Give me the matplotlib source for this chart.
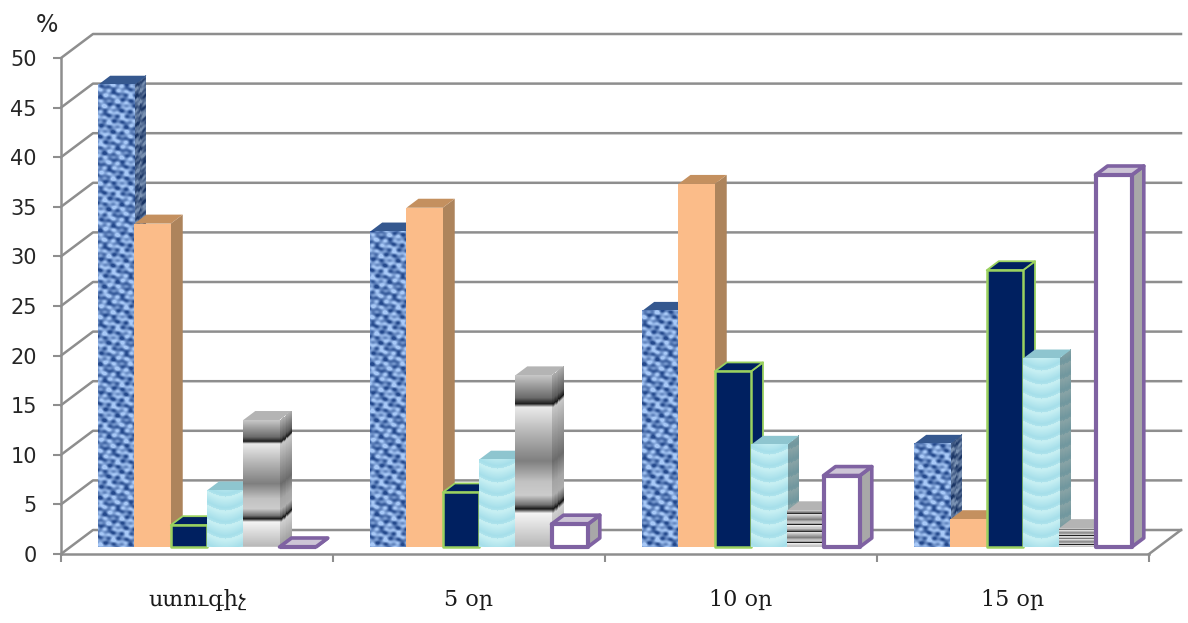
import numpy as np
import matplotlib
matplotlib.use("Agg")
import matplotlib.pyplot as plt
from matplotlib.patches import Polygon

categories = ["ստուգիչ", "5 օր", "10 օր", "15 օր"]
y_ticks = [0, 5, 10, 15, 20, 25, 30, 35, 40, 45, 50]

# one list per series, one value per category
blue_vals = [46.6, 31.8, 23.8, 10.4]
orange_vals = [32.6, 34.2, 36.6, 2.8]
navy_vals = [2.2, 5.5, 17.7, 27.9]
cyan_vals = [5.7, 8.8, 10.3, 19.0]
gray_vals = [12.8, 17.3, 3.7, 1.9]
white_vals = [0.0, 2.3, 7.2, 37.5]

W, H = 1188, 623
X_PX = 272.0   # pixels per category
Y_PX = 9.92    # pixels per percent

GRID = "#8e8e8e"
PURPLE = "#7f62a2"
GREEN = "#9ad15f"

# 3d offsets, in data units
wall_dx, wall_dy = 32 / X_PX, 24 / Y_PX
floor_dx, floor_dy = 10 / X_PX, 7 / Y_PX
side_dx, side_dy = 12 / X_PX, 9 / Y_PX
bar_w = 0.8 / 6

fig = plt.figure(figsize=(W / 100, H / 100), dpi=100)
ax = fig.add_axes([61 / W, 1 - 554 / H, (1149 - 61) / W, (554 - 58) / H])


def blend(a, b, t):
    a = np.array(matplotlib.colors.to_rgb(a))
    b = np.array(matplotlib.colors.to_rgb(b))
    return a + (b - a) * t[..., None]


def cloth(w, h, shade=1.0):
    # mottled woven look, built from a few sines that don't line up
    yy, xx = np.mgrid[0:int(h) + 1, 0:int(w) + 1]
    t = (np.sin(xx * 0.73) * np.sin(yy * 0.61) * 0.35
         + np.sin(xx * 0.29 + yy * 0.47) * 0.3
         + np.sin(xx * 0.53 - yy * 0.19 + 1.3) * 0.2
         + np.sin(xx * 0.11 + yy * 1.13) * 0.2)
    t = np.clip(t * 0.85 + 0.55, 0, 1)
    img = blend("#24498c", "#a9caf8", t)
    return np.clip(img * shade, 0, 1)


def waves(w, h, shade=1.0):
    # stacked scallops
    yy, xx = np.mgrid[0:int(h) + 1, 0:int(w) + 1]
    t = ((yy + 6 * np.abs(np.sin(xx * np.pi / 36))) % 14) / 14
    t = np.clip(np.abs(t - 0.2) * 1.5, 0, 1)
    img = blend("#a6dfea", "#c6eff3", t)
    return np.clip(img * shade, 0, 1)


def metal(w, h, tiles=1, shade=1.0):
    # grey bands running across the bar, top to bottom
    pos = [0, .13, .165, .185, .33, .5, .62, .7, .755, .78, .805, 1]
    lev = [.78, .42, .12, .92, .72, .5, .76, .8, .45, .1, .96, .72]
    yy = np.arange(int(h) + 1) / max(int(h), 1)
    v = (yy * tiles) % 1
    g = np.interp(v, pos, lev)[:, None].repeat(int(w) + 1, axis=1)[::-1]
    return np.clip(np.dstack([g, g, g]) * shade, 0, 1)


def front_face(img, x, y, val, z):
    im = ax.imshow(img, extent=(x, x + bar_w, y, y + val), origin="lower",
                   aspect="auto", interpolation="bilinear", zorder=z)
    im.set_clip_on(False)


def side_face(img, x, y, val, z):
    # img is given for the upright bar: lift each column to follow the depth
    # slope, then mask off the two corner wedges of the bounding box
    rows, cols = img.shape[:2]
    rise = np.arange(cols) / max(cols - 1, 1) * side_dy * Y_PX
    lifted = np.empty((rows, cols, 4))
    for c in range(cols):
        lifted[:, c, :3] = np.roll(img[:, c], int(rise[c]), axis=0)
        r = np.arange(rows)
        lifted[:, c, 3] = (r >= rise[c]) & (r <= val * Y_PX + rise[c])
    im = ax.imshow(lifted, extent=(x, x + side_dx, y, y + val + side_dy),
                   origin="lower", aspect="auto", interpolation="nearest", zorder=z)
    im.set_clip_on(False)


def flat_face(p0, pu, pv, color, z, edge="none", lw=0):
    pts = [p0, (p0[0] + pu[0], p0[1] + pu[1]),
           (p0[0] + pu[0] + pv[0], p0[1] + pu[1] + pv[1]),
           (p0[0] + pv[0], p0[1] + pv[1])]
    ax.add_patch(Polygon(pts, closed=True, facecolor=color, edgecolor=edge,
                         linewidth=lw, joinstyle="round", clip_on=False, zorder=z))


def draw_bar(series, i, j, val, z):
    x = i + 0.1 + j * bar_w + floor_dx
    y = floor_dy
    front = ((x, y), (bar_w, 0), (0, val))
    side = ((x + bar_w, y), (side_dx, side_dy), (0, val))
    top = ((x, y + val), (bar_w, 0), (side_dx, side_dy))
    w_px = bar_w * X_PX
    h_px = val * Y_PX
    box_h = h_px + side_dy * Y_PX

    if series == "blue":
        side_face(cloth(12, box_h, 0.72), x + bar_w, y, val, z)
        flat_face(*top, "#35588f", z)
        front_face(cloth(w_px, h_px), x, y, val, z)
    elif series == "orange":
        flat_face(*side, "#ad845c", z)
        flat_face(*top, "#c4905f", z)
        flat_face(*front, "#fbbc89", z)
    elif series == "navy":
        flat_face(*side, "#002060", z, GREEN, 1.3)
        flat_face(*top, "#002060", z, GREEN, 1.3)
        flat_face(*front, "#002060", z, GREEN, 1.8)
    elif series == "cyan":
        side_face(waves(12, box_h, 0.68), x + bar_w, y, val, z)
        flat_face(*top, "#8ec5cf", z)
        front_face(waves(w_px, h_px), x, y, val, z)
    elif series == "gray":
        tiles = 1 if val > 5 else 2
        side_img = metal(12, h_px, tiles, 0.85)
        pad = np.repeat(side_img[-1:], int(box_h) - int(h_px), axis=0)
        side_face(np.vstack([side_img, pad]), x + bar_w, y, val, z)
        flat_face(*top, "#b4b4b4", z)
        front_face(metal(w_px, h_px, tiles), x, y, val, z)
    else:
        flat_face(*side, "#a8a8a8", z, PURPLE, 2.6)
        flat_face(*top, "#cdc5d6", z, PURPLE, 2.6)
        flat_face(*front, "white", z, PURPLE, 3.0)


# back wall and floor lines
for v in y_ticks:
    ax.plot([0, wall_dx, 4 + wall_dx], [v, v + wall_dy, v + wall_dy],
            color=GRID, lw=1.8, clip_on=False, zorder=1)
ax.plot([4, 4 + wall_dx], [0, wall_dy], color=GRID, lw=1.8, clip_on=False, zorder=1)

series = [("blue", blue_vals), ("orange", orange_vals), ("navy", navy_vals),
          ("cyan", cyan_vals), ("gray", gray_vals), ("white", white_vals)]
z = 3
for i in range(len(categories)):
    for j, (name, vals) in enumerate(series):
        draw_bar(name, i, j, vals[i], z)
        z += 1

ax.set_xlim(0, 4)
ax.set_ylim(0, 50)
ax.patch.set_visible(False)

for s in ["top", "right"]:
    ax.spines[s].set_visible(False)
for s in ["left", "bottom"]:
    ax.spines[s].set_color(GRID)
    ax.spines[s].set_linewidth(1.8)

ax.set_yticks(y_ticks)
ax.set_xticks(range(5))
ax.set_xticklabels([])
ax.tick_params(axis="both", color=GRID, width=1.5, length=5.5)
ax.tick_params(axis="y", labelsize=15, labelcolor="#262626", pad=12)

for i, name in enumerate(categories):
    ax.text(i + 0.5, -4.65, name, ha="center", va="center", fontsize=16,
            family="DejaVu Serif", color="#1a1a1a")

ax.text(-0.052, 53.3, "%", ha="center", va="center", fontsize=17, color="#262626")

fig.savefig("out.png", dpi=100)
